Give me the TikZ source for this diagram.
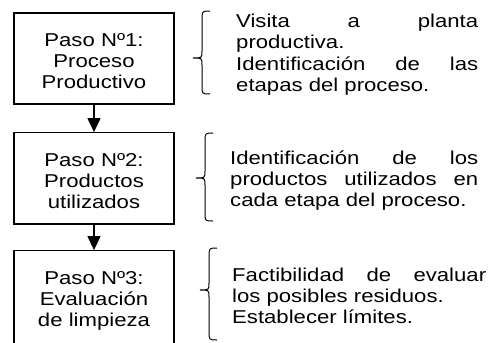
\documentclass[tikz,border=0pt]{standalone}
\usepackage{fontspec}
\setmainfont{Liberation Sans}[FakeStretch=1.19]
\usetikzlibrary{arrows.meta}

\tikzset{
  paso/.style={draw, line width=1.2pt, inner sep=0pt, text width=160pt, align=center,
    text height=33pt, text depth=58pt, font=\fontsize{18.6}{21.4}\selectfont},
  texto/.style={inner sep=0pt, anchor=base west, align=justify,
    font=\fontsize{18.6}{21.4}\selectfont},
  flecha/.style={line width=1.2pt, -{Triangle[width=13pt,length=14pt]}},
  llave/.style={line width=1pt}
}

\begin{document}
\begin{tikzpicture}[x=1pt,y=-1pt]
            \clip (0,0) rectangle (491,343);

            % pasos
            \node[paso, anchor=base] (paso1) at (94,46) {Paso Nº1:\\ Proceso\\ Productivo};
            \node[paso, anchor=base, text height=33.3pt] (paso2) at (94,166) {Paso Nº2:\\ Productos\\ utilizados};
            \node[paso, anchor=base, text height=33.3pt, text depth=60pt] (paso3) at (94,284) {Paso Nº3:\\ Evaluación\\ de limpieza};

            \draw[flecha] (paso1) -- (paso2);
            \draw[flecha] (paso2) -- (paso3);

            % llaves
            \draw[llave] (210,11) .. controls (202,11) .. (202,20) -- (202,51) .. controls (202,58) .. (193,58)
                .. controls (202,58) .. (202,65) -- (202,86) .. controls (202,94) .. (210,94);
            \draw[llave] (213,133) .. controls (205,133) .. (205,142) -- (205,171) .. controls (205,178) .. (196,178)
                .. controls (205,178) .. (205,185) -- (205,213) .. controls (205,221) .. (213,221);
            \draw[llave] (217,248) .. controls (209,248) .. (209,257) -- (209,283) .. controls (209,290) .. (200,290)
                .. controls (209,290) .. (209,297) -- (209,331) .. controls (209,340) .. (217,340);

            % textos
            \node[texto, text width=242pt] (texto1) at (236,27.5)
                {Visita a planta\linebreak productiva.\par Identificación de las\linebreak etapas del proceso.};
            \node[texto, text width=248pt] (texto2) at (230,164)
                {Identificación de los\linebreak productos utilizados en\linebreak cada etapa del proceso.};
            \node[texto, text width=254pt] (texto3) at (232,281)
                {Factibilidad de evaluar\linebreak los posibles residuos.\par Establecer límites.};
\end{tikzpicture}
\end{document}
